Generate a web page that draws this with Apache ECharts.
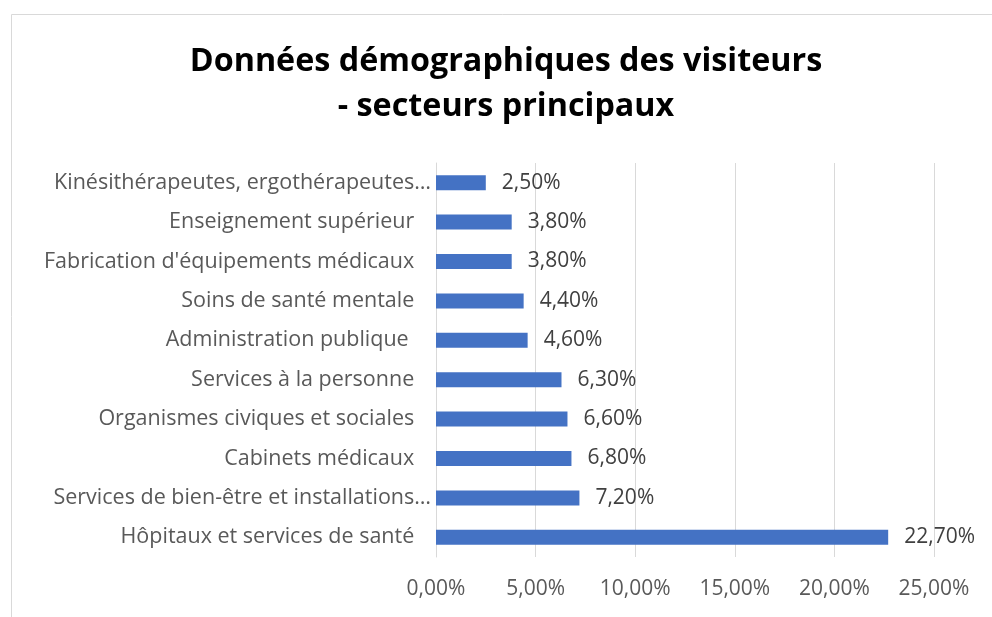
<!DOCTYPE html>
<html><head><meta charset="utf-8">
<script src="https://cdn.jsdelivr.net/npm/echarts@6/dist/echarts.min.js"></script>
<style>html,body{margin:0;padding:0;background:#fff}#c{width:992px;height:617px}</style>
</head><body><div id="c"></div>
<script>
const categories = [
  "Kinésithérapeutes, ergothérapeutes…",
  "Enseignement supérieur",
  "Fabrication d'équipements médicaux",
  "Soins de santé mentale",
  "Administration publique ",
  "Services à la personne",
  "Organismes civiques et sociales",
  "Cabinets médicaux",
  "Services de bien-être et installations…",
  "Hôpitaux et services de santé"
];
const values = [2.5, 3.8, 3.8, 4.4, 4.6, 6.3, 6.6, 6.8, 7.2, 22.7];
const titleLines = ["Données démographiques des visiteurs", "- secteurs principaux"];

const fmt = v => v.toFixed(2).replace('.', ',') + '%';
const chart = echarts.init(document.getElementById('c'));
chart.setOption({
  animation: false,
  textStyle: { fontFamily: 'Open Sans' },
  graphic: [{
    type: 'rect', left: 9, top: 12,
    shape: { width: 1000, height: 700 },
    style: { fill: 'none', stroke: '#d9d9d9', lineWidth: 1 }
  }, {
    type: 'text', x: 506, y: 39,
    style: {
      text: titleLines.join('\n'), align: 'center', verticalAlign: 'top',
      font: 'bold 32.3px "Open Sans"', lineHeight: 45, fill: '#000'
    }
  }],
  grid: { left: 436, right: 58, top: 163, bottom: 60, containLabel: false },
  xAxis: {
    type: 'value', min: 0, max: 25, interval: 5,
    axisLabel: { formatter: fmt, color: '#595959', fontSize: 21, margin: 22 },
    axisLine: { show: false }, axisTick: { show: false },
    splitLine: { lineStyle: { color: '#d9d9d9', width: 1 } }
  },
  yAxis: {
    type: 'category', data: categories, inverse: true,
    axisLine: { show: true, lineStyle: { color: '#d9d9d9' } },
    axisTick: { show: false },
    axisLabel: {
      color: '#595959', fontSize: 21.5, margin: 5,
      formatter: s => s.endsWith('…') ? s : s + '\u00a0\u00a0\u00a0'
    }
  },
  series: [{
    type: 'bar', data: values, barWidth: 15,
    itemStyle: { color: '#4472c4' },
    label: { show: true, position: 'right', distance: 16, formatter: p => fmt(p.value), color: '#404040', fontSize: 21 }
  }]
});
</script></body></html>
